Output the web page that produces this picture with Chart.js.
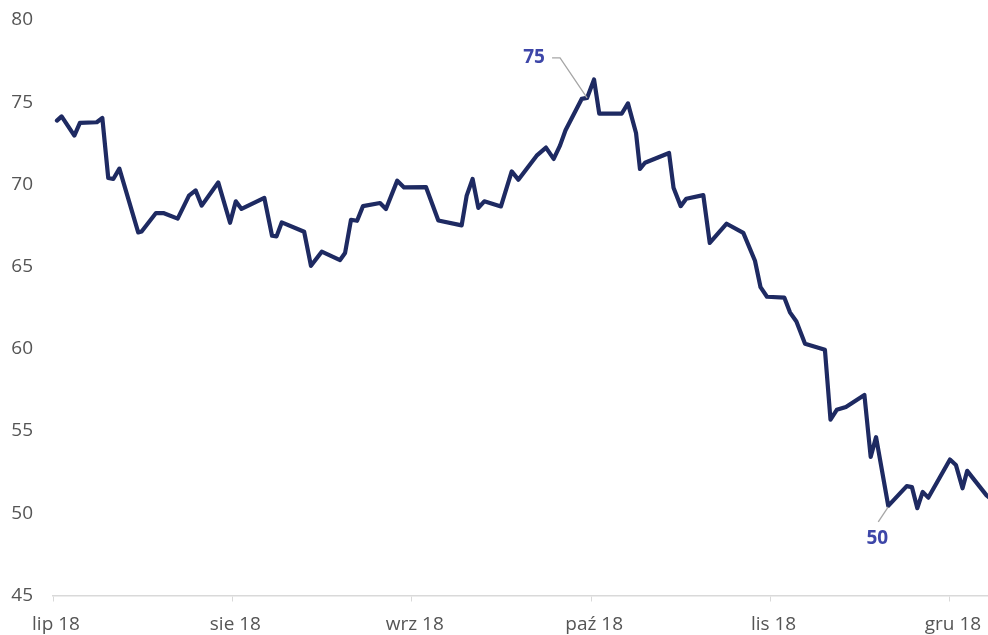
<!DOCTYPE html>
<html>
<head>
<meta charset="utf-8">
<script src="https://cdn.jsdelivr.net/npm/chart.js@4.4.1/dist/chart.umd.min.js"></script>
<style>
    html, body { margin: 0; padding: 0; background: #fff; }
    #box { width: 988px; height: 635px; }
</style>
</head>
<body>
<div id="box"><canvas id="lineChart"></canvas></div>
<script>
// miesiace na osi x
var miesiace = ['lip 18', 'sie 18', 'wrz 18', 'paź 18', 'lis 18', 'gru 18'];

// polozenie punktu w miesiacach od poczatku lipca 2018
var czas = [
    0.022, 0.048, 0.119, 0.150, 0.244, 0.275, 0.308, 0.336, 0.370, 0.475,
    0.494, 0.574, 0.615, 0.695, 0.758, 0.795, 0.829, 0.921, 0.987, 1.019,
    1.051, 1.178, 1.221, 1.246, 1.275, 1.400, 1.438, 1.498, 1.600, 1.628,
    1.661, 1.695, 1.728, 1.823, 1.856, 1.919, 1.957, 2.079, 2.148, 2.278,
    2.306, 2.339, 2.371, 2.404, 2.497, 2.557, 2.594, 2.696, 2.748, 2.791,
    2.826, 2.857, 2.947, 2.977, 3.016, 3.045, 3.170, 3.205, 3.250, 3.272,
    3.300, 3.434, 3.459, 3.499, 3.530, 3.625, 3.661, 3.755, 3.848, 3.913,
    3.944, 3.980, 4.077, 4.108, 4.144, 4.192, 4.303, 4.334, 4.369, 4.420,
    4.523, 4.558, 4.588, 4.656, 4.759, 4.788, 4.818, 4.848, 4.879, 5.000,
    5.033, 5.070, 5.096, 5.204, 5.230
];

var kurs = [
    73.88, 74.14, 72.97, 73.74, 73.78, 74.04, 70.39, 70.33, 70.96, 67.08,
    67.14, 68.26, 68.26, 67.92, 69.32, 69.64, 68.71, 70.12, 67.67, 68.97,
    68.51, 69.18, 66.88, 66.84, 67.69, 67.12, 65.05, 65.91, 65.40, 65.83,
    67.85, 67.79, 68.68, 68.87, 68.51, 70.23, 69.82, 69.84, 67.81, 67.51,
    69.32, 70.33, 68.57, 68.97, 68.66, 70.79, 70.29, 71.75, 72.24, 71.55,
    72.36, 73.29, 75.20, 75.26, 76.38, 74.31, 74.30, 74.93, 73.13, 70.94,
    71.32, 71.91, 69.80, 68.68, 69.13, 69.35, 66.44, 67.61, 67.05, 65.36,
    63.75, 63.17, 63.11, 62.22, 61.66, 60.31, 59.94, 55.70, 56.29, 56.47,
    57.20, 53.43, 54.63, 50.45, 51.65, 51.59, 50.31, 51.30, 50.95, 53.27,
    52.94, 51.52, 52.58, 51.09, 50.85
];

// opisane punkty
var opisIdx = [53, 83];
var opisTekst = ['75', '50'];

var punkty = [];
for (var i = 0; i < czas.length; i++) {
    punkty.push({ x: czas[i], y: kurs[i] });
}

var opisy = {
    id: 'opisy',
    afterDatasetsDraw: function (chart) {
        var ctx = chart.ctx;
        var meta = chart.getDatasetMeta(0);
        ctx.save();
        ctx.font = 'bold 19px "Open Sans"';
        ctx.textAlign = 'center';
        ctx.textBaseline = 'middle';
        for (var k = 0; k < opisIdx.length; k++) {
            var p = meta.data[opisIdx[k]];
            ctx.strokeStyle = '#a6a6a6';
            ctx.lineWidth = 1.3;
            ctx.beginPath();
            if (k == 0) {
                // nad punktem, w lewo
                ctx.moveTo(p.x, p.y);
                ctx.lineTo(p.x - 27, p.y - 40);
                ctx.lineTo(p.x - 35, p.y - 40);
                ctx.stroke();
                ctx.fillStyle = '#3d46a8';
                ctx.fillText(opisTekst[k], p.x - 53, p.y - 40);
            } else {
                // pod punktem
                ctx.moveTo(p.x, p.y + 1);
                ctx.lineTo(p.x - 10, p.y + 16);
                ctx.stroke();
                ctx.fillStyle = '#3d46a8';
                ctx.fillText(opisTekst[k], p.x - 11, p.y + 33);
            }
        }
        ctx.restore();
    }
};

var lineCanvas = document.getElementById('lineChart').getContext('2d');
var lineChart = new Chart(lineCanvas, {
    type: 'line',
    data: {
        datasets: [{
            data: punkty,
            borderColor: '#1e2a62',
            borderWidth: 4.2,
            pointRadius: 0,
            tension: 0,
            fill: false,
            borderJoinStyle: 'round',
            borderCapStyle: 'round'
        }]
    },
    options: {
        responsive: true,
        maintainAspectRatio: false,
        animation: false,
        layout: {
            padding: { top: 20, left: 0, right: 0, bottom: 0 }
        },
        plugins: {
            legend: { display: false },
            tooltip: { enabled: false }
        },
        scales: {
            x: {
                type: 'linear',
                min: 0,
                max: 5.212,
                afterBuildTicks: function (scale) {
                    scale.ticks = miesiace.map(function (m, i) { return { value: i }; });
                },
                afterFit: function (scale) {
                    scale.height = 39.5;
                    scale.paddingLeft = 0;
                    scale.paddingRight = 0;
                },
                grid: {
                    drawOnChartArea: false,
                    drawTicks: true,
                    tickLength: 6,
                    color: '#d9d9d9'
                },
                border: { color: '#d9d9d9', width: 1.5 },
                ticks: {
                    padding: 12,
                    labelOffset: 3,
                    color: '#555555',
                    maxRotation: 0,
                    autoSkip: false,
                    font: { family: 'Open Sans', size: 19 },
                    callback: function (v) { return miesiace[v]; }
                }
            },
            y: {
                min: 45,
                max: 80,
                afterFit: function (scale) {
                    scale.width = 53;
                    scale.paddingTop = 0;
                    scale.paddingBottom = 0;
                },
                grid: { display: false, drawTicks: false },
                border: { display: false },
                ticks: {
                    stepSize: 5,
                    padding: 20,
                    color: '#555555',
                    font: { family: 'Open Sans', size: 19 }
                }
            }
        }
    },
    plugins: [opisy]
});
</script>
</body>
</html>
